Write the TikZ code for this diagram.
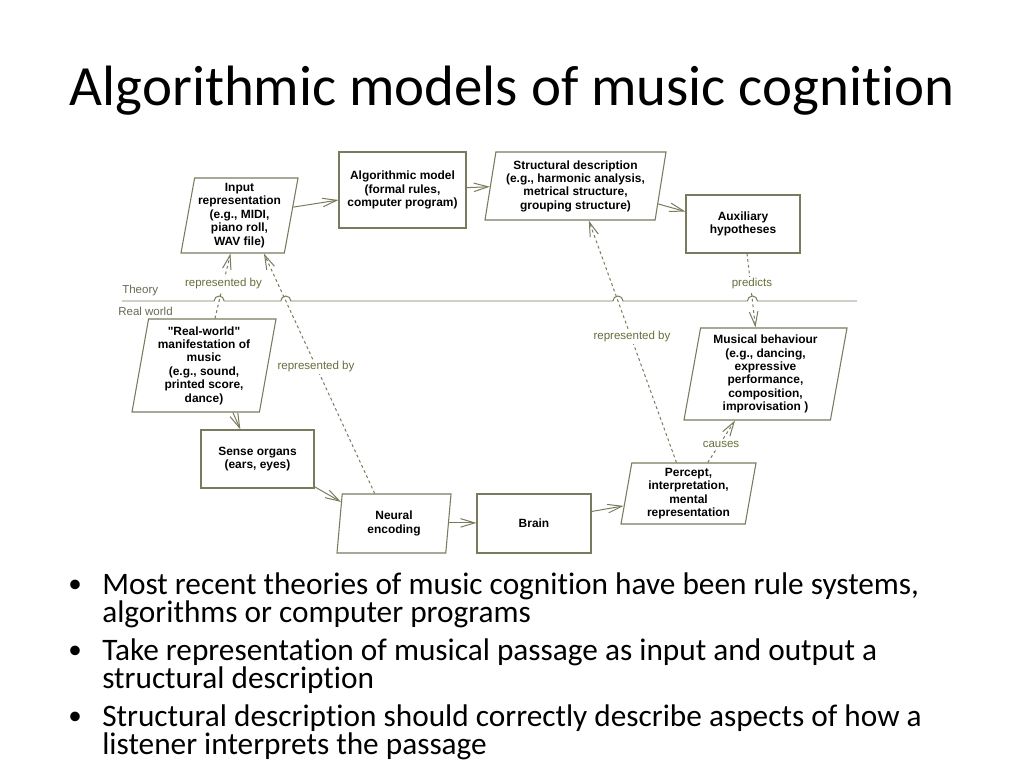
\documentclass[tikz,border=0pt]{standalone}
\usepackage{fontspec}
\setmainfont{Carlito}[Ligatures=NoCommon]
\newfontfamily\arialfont{Liberation Sans}
\usetikzlibrary{shapes.geometric,arrows.meta,calc,intersections}
\definecolor{lncol}{RGB}{122,122,94}
\definecolor{lblcol}{RGB}{98,112,58}
\definecolor{wldcol}{RGB}{105,105,85}
\begin{document}
\begin{tikzpicture}[x=0.703125pt,y=-0.703125pt,
  box/.style={draw=lncol, line width=0.75pt, fill=white, inner sep=0pt, align=center,
    font=\arialfont\bfseries\fontsize{8.4}{9.4}\selectfont, text=black},
  rbox/.style={box, rectangle},
  pbox/.style={box, trapezium, trapezium left angle=78, trapezium right angle=102,
    trapezium stretches body},
  conn/.style={draw=lncol, line width=0.7pt, -{Straight Barb[length=10pt,width=6pt]}},
  dconn/.style={conn, dash pattern=on 2pt off 2pt},
  lbl/.style={font=\arialfont\fontsize{8.1}{9}\selectfont, text=lblcol, fill=white, inner sep=1pt},
  wld/.style={font=\arialfont\fontsize{8.1}{9}\selectfont, text=wldcol, inner sep=0pt, anchor=west},
  bul/.style={font=\fontsize{22}{26}\selectfont, anchor=base west, inner sep=0pt},
  dot/.style={font=\fontsize{19}{26}\selectfont, anchor=base, inner sep=0pt},
]
\useasboundingbox[fill=white] (0,0) rectangle (1024,768);

% title
\node[anchor=base, inner sep=0pt, font=\fontsize{40}{46}\selectfont] (title) at (512,106)
  {Algorithmic models of music cognition};

% boxes
\node[pbox, minimum width=82.27pt, minimum height=52.73pt] (inp) at (239.5,215.5)
  {Input\\representation\\(e.g., MIDI,\\piano roll,\\WAV file)};
\node[rbox, minimum width=89.30pt, minimum height=53.44pt] (algo) at (402.5,190)
  {Algorithmic model\\(formal rules,\\computer program)};
\node[pbox, minimum width=127.27pt, minimum height=47.81pt] (struct) at (575.5,186)
  {Structural description\\(e.g., harmonic analysis,\\metrical structure,\\grouping structure)};
\node[rbox, minimum width=80.16pt, minimum height=40.78pt] (aux) at (743,224)
  {Auxiliary\\hypotheses};
\node[pbox, minimum width=101.25pt, minimum height=65.39pt] (real) at (204,365.5)
  {"Real-world"\\manifestation of\\music\\(e.g., sound,\\printed score,\\dance)};
\node[rbox, minimum width=79.45pt, minimum height=40.78pt] (sense) at (257.5,459)
  {Sense organs\\(ears, eyes)};
\node[pbox, minimum width=80.16pt, minimum height=41.48pt] (neural) at (394,523.5)
  {Neural\\encoding};
\node[rbox, minimum width=80.16pt, minimum height=41.48pt] (brain) at (534,523.5)
  {Brain};
\node[pbox, minimum width=94.92pt, minimum height=42.89pt] (percept) at (688.5,493.5)
  {Percept,\\interpretation,\\mental\\representation};
\node[pbox, minimum width=114.61pt, minimum height=64.69pt] (musb) at (765.5,374)
  {Musical behaviour\\(e.g., dancing,\\expressive\\performance,\\composition,\\improvisation )};

% solid connectors
\draw[conn] ($(inp.top right corner)!0.39!(inp.bottom right corner)$) -- ($(algo.north west)!0.63!(algo.south west)$);
\draw[conn] ($(algo.north east)!0.47!(algo.south east)$) -- ($(struct.top left corner)!0.51!(struct.bottom left corner)$);
\draw[conn] ($(struct.top right corner)!0.76!(struct.bottom right corner)$) -- ($(aux.north west)!0.29!(aux.south west)$);
\draw[conn] ($(real.bottom left corner)!0.79!(real.bottom right corner)$) -- ($(sense.north west)!0.35!(sense.north east)$);
\draw[conn] ($(sense.north east)!0.97!(sense.south east)$) -- ($(neural.top left corner)!0.14!(neural.bottom left corner)$);
\draw[conn] ($(neural.top right corner)!0.49!(neural.bottom right corner)$) -- ($(brain.north west)!0.49!(brain.south west)$);
\draw[conn] ($(brain.north east)!0.3!(brain.south east)$) -- ($(percept.top left corner)!0.7!(percept.bottom left corner)$);

% dashed connectors
\draw[dconn, name path=dA] ($(real.top left corner)!0.52!(real.top right corner)$) -- ($(inp.bottom left corner)!0.48!(inp.bottom right corner)$);
\draw[dconn, name path=dB] ($(neural.top left corner)!0.3!(neural.top right corner)$) -- ($(inp.bottom left corner)!0.8!(inp.bottom right corner)$);
\draw[dconn, name path=dC] ($(percept.top left corner)!0.36!(percept.top right corner)$) -- ($(struct.bottom left corner)!0.61!(struct.bottom right corner)$);
\draw[dconn, name path=dD] ($(aux.south west)!0.535!(aux.south east)$) -- ($(musb.top left corner)!0.375!(musb.top right corner)$);
\draw[dconn] ($(percept.top left corner)!0.61!(percept.top right corner)$) -- ($(musb.bottom left corner)!0.35!(musb.bottom right corner)$);

% theory line with hops
\path[name path=th] (100,301) -- (900,301);
\path[name intersections={of=th and dA, by=h1}];
\path[name intersections={of=th and dB, by=h2}];
\path[name intersections={of=th and dC, by=h3}];
\path[name intersections={of=th and dD, by=h4}];
\coordinate (thL) at (122,301);
\coordinate (thR) at (857,301);
\draw[lncol, line width=0.7pt] (thL) -- ($(h1)+(-5,0)$) arc[start angle=180, end angle=360, radius=5]
  -- ($(h2)+(-5,0)$) arc[start angle=180, end angle=360, radius=5]
  -- ($(h3)+(-5,0)$) arc[start angle=180, end angle=360, radius=5]
  -- ($(h4)+(-5,0)$) arc[start angle=180, end angle=360, radius=5]
  -- (thR);
\node[wld] (theory) at (122,291) {Theory};
\node[wld] (realworld) at (118,311.5) {Real world};

% labels
\node[lbl] (l1) at (223.5,284) {represented by};
\node[lbl] (l2) at (316,367) {represented by};
\node[lbl] (l3) at (632,337) {represented by};
\node[lbl] (l4) at (752,284) {predicts};
\node[lbl] (l5) at (721,444) {causes};

% bullets
\node[dot] (b1) at (75,592) {•};
\node[bul] (t1a) at (102,594) {Most recent theories of music cognition have been rule systems,};
\node[bul] (t1b) at (102,622.5) {algorithms or computer programs};
\node[dot] (b2) at (75,658) {•};
\node[bul] (t2a) at (102,660) {Take representation of musical passage as input and output a};
\node[bul] (t2b) at (102,688.5) {structural description};
\node[dot] (b3) at (75,724) {•};
\node[bul] (t3a) at (102,726) {Structural description should correctly describe aspects of how a};
\node[bul] (t3b) at (102,754.5) {listener interprets the passage};
\end{tikzpicture}
\end{document}
